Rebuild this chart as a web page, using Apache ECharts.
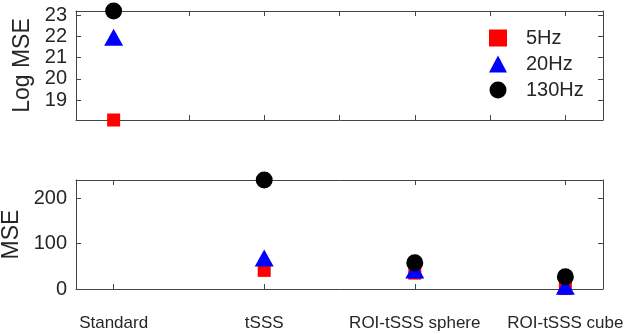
<!DOCTYPE html>
<html>
<head>
<meta charset="utf-8">
<script src="https://cdn.jsdelivr.net/npm/echarts@6/dist/echarts.min.js"></script>
<style>
  html, body { margin: 0; padding: 0; background: #fff; }
  #chart { width: 630px; height: 334px; }
</style>
</head>
<body>
<div id="chart"></div>
<script>
// categories along x (positions 1..4)
const categories = ['Standard', 'tSSS', 'ROI-tSSS sphere', 'ROI-tSSS cube'];
const seriesNames = ['5Hz', '20Hz', '130Hz'];

// top panel: log MSE, only Standard shown
const logMse5 = [18.06];
const logMse20 = [21.95];
const logMse130 = [23.19];

// bottom panel: MSE (Standard is off scale)
const mse5 = [null, 41, 35, 1];
const mse20 = [null, 68, 42, 6];
const mse130 = [null, 240, 58, 27];

const logTicks = [19, 20, 21, 22, 23];
const mseTicks = [0, 100, 200];
const topXTicks = [1, 1.5, 2, 2.5, 3, 3.5, 4];

const font = 'Liberation Sans, Arial, sans-serif';
const lineColor = '#444';
const textColor = '#262626';

function toPoints(arr) {
  return arr.map((v, i) => [i + 1, v]).filter(p => p[1] !== null);
}

function xAxisFor(gridIndex, pos, ticks, labels) {
  return {
    type: 'value', gridIndex: gridIndex, position: pos,
    min: 0.75, max: 4.25,
    axisLine: { show: true, onZero: false, lineStyle: { color: lineColor, width: 1 } },
    axisTick: { show: true, inside: true, length: 5, customValues: ticks, lineStyle: { color: lineColor } },
    axisLabel: labels ? {
      show: true, customValues: [1, 2, 3, 4], margin: 26,
      formatter: v => categories[Math.round(v) - 1],
      fontFamily: font, fontSize: 17, color: textColor
    } : { show: false },
    splitLine: { show: false }
  };
}

function yAxisFor(gridIndex, pos, min, max, ticks, name) {
  return {
    type: 'value', gridIndex: gridIndex, position: pos,
    min: min, max: max,
    name: name || '', nameLocation: 'middle', nameGap: 40,
    nameTextStyle: { fontFamily: font, fontSize: 23, color: textColor },
    axisLine: { show: true, onZero: false, lineStyle: { color: lineColor, width: 1 } },
    axisTick: { show: true, inside: true, length: 5, customValues: ticks, lineStyle: { color: lineColor } },
    axisLabel: name ? {
      show: true, customValues: ticks, margin: 9,
      fontFamily: font, fontSize: 20, color: textColor
    } : { show: false },
    splitLine: { show: false }
  };
}

const markers = [
  { symbol: 'rect', size: 13, color: '#ff0000' },
  { symbol: 'triangle', size: [19, 17], color: '#0000ff' },
  { symbol: 'circle', size: 17, color: '#000000' }
];
const topData = [logMse5, logMse20, logMse130];
const botData = [mse5, mse20, mse130];

const series = [];
seriesNames.forEach((n, k) => {
  series.push({
    name: n, type: 'scatter', xAxisIndex: 0, yAxisIndex: 0, clip: false,
    symbol: markers[k].symbol, symbolSize: markers[k].size,
    itemStyle: { color: markers[k].color, opacity: 1 },
    data: toPoints(topData[k]), z: 2 + k
  });
});
seriesNames.forEach((n, k) => {
  series.push({
    name: n, type: 'scatter', xAxisIndex: 2, yAxisIndex: 2, clip: false,
    symbol: markers[k].symbol, symbolSize: markers[k].size,
    itemStyle: { color: markers[k].color, opacity: 1 },
    data: toPoints(botData[k]), z: 2 + k
  });
});

const myChart = echarts.init(document.getElementById('chart'), null, { renderer: 'canvas' });
const option = {
  animation: false,
  backgroundColor: '#fff',
  grid: [
    { left: 76, top: 11, width: 527, height: 109, outerBoundsMode: 'none' },
    { left: 76, top: 180, width: 527, height: 109, outerBoundsMode: 'none' }
  ],
  xAxis: [
    xAxisFor(0, 'bottom', topXTicks, false),
    xAxisFor(0, 'top', topXTicks, false),
    xAxisFor(1, 'bottom', [1, 2, 3, 4], true),
    xAxisFor(1, 'top', [1, 2, 3, 4], false)
  ],
  yAxis: [
    yAxisFor(0, 'left', 18.06, 23.19, logTicks, 'Log MSE'),
    yAxisFor(0, 'right', 18.06, 23.19, logTicks, null),
    yAxisFor(1, 'left', 0, 240, mseTicks, 'MSE'),
    yAxisFor(1, 'right', 0, 240, mseTicks, null)
  ],
  legend: {
    orient: 'vertical', left: 484, top: 23,
    itemWidth: 18, itemHeight: 17, itemGap: 6,
    textStyle: { fontFamily: font, fontSize: 20, color: textColor, padding: [0, 0, 0, 14] },
    data: seriesNames.map((n, k) => ({ name: n, icon: markers[k].symbol }))
  },
  series: series
};
myChart.setOption(option);
</script>
</body>
</html>
